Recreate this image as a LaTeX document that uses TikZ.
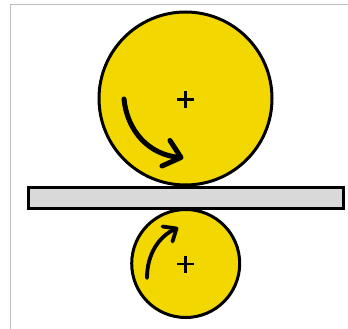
\documentclass[tikz,border=0pt]{standalone}
\definecolor{rollfill}{RGB}{242,215,0}
\definecolor{platefill}{RGB}{217,217,217}
\definecolor{framegray}{RGB}{190,190,190}
\tikzset{
  roller/.style={draw=black,fill=rollfill,line width=3pt},
  plate/.style={draw=black,fill=platefill,line width=3pt},
  framing/.style={draw=framegray,line width=1pt},
  cross/.style={draw=black,line width=2.8pt},
  turn/.style={draw=black,line cap=round,line join=round},
}
\begin{document}
\begin{tikzpicture}[x=1pt,y=-1pt]
\useasboundingbox (0,0) rectangle (348,329);
\fill[white] (0,0) rectangle (348,329);
\draw[framing] (10.5,329) -- (10.5,4.5) -- (348,4.5);
\draw[roller] (185.5,98.5) circle[radius=86.5];
\draw[roller] (185.7,263.5) circle[radius=54];
\draw[plate] (28.5,187.2) rectangle (343.5,208.8);
\draw[cross] (177,99.5) -- (194,99.5) (185.5,91) -- (185.5,108);
\draw[cross] (177,264) -- (194,264) (185.5,255.5) -- (185.5,272.5);
\draw[turn,line width=5pt] (124,99) .. controls (127,130) and (148,155) .. (180,157.5);
\draw[turn,line width=5pt] (170,140.5) -- (181,157.5) -- (162,166);
\draw[turn,line width=3.8pt] (147,278) .. controls (147,255) and (158,237) .. (175,229);
\draw[turn,line width=3.8pt] (162.5,226.5) -- (176.5,228.5) -- (172.5,241.5);
\end{tikzpicture}
\end{document}
